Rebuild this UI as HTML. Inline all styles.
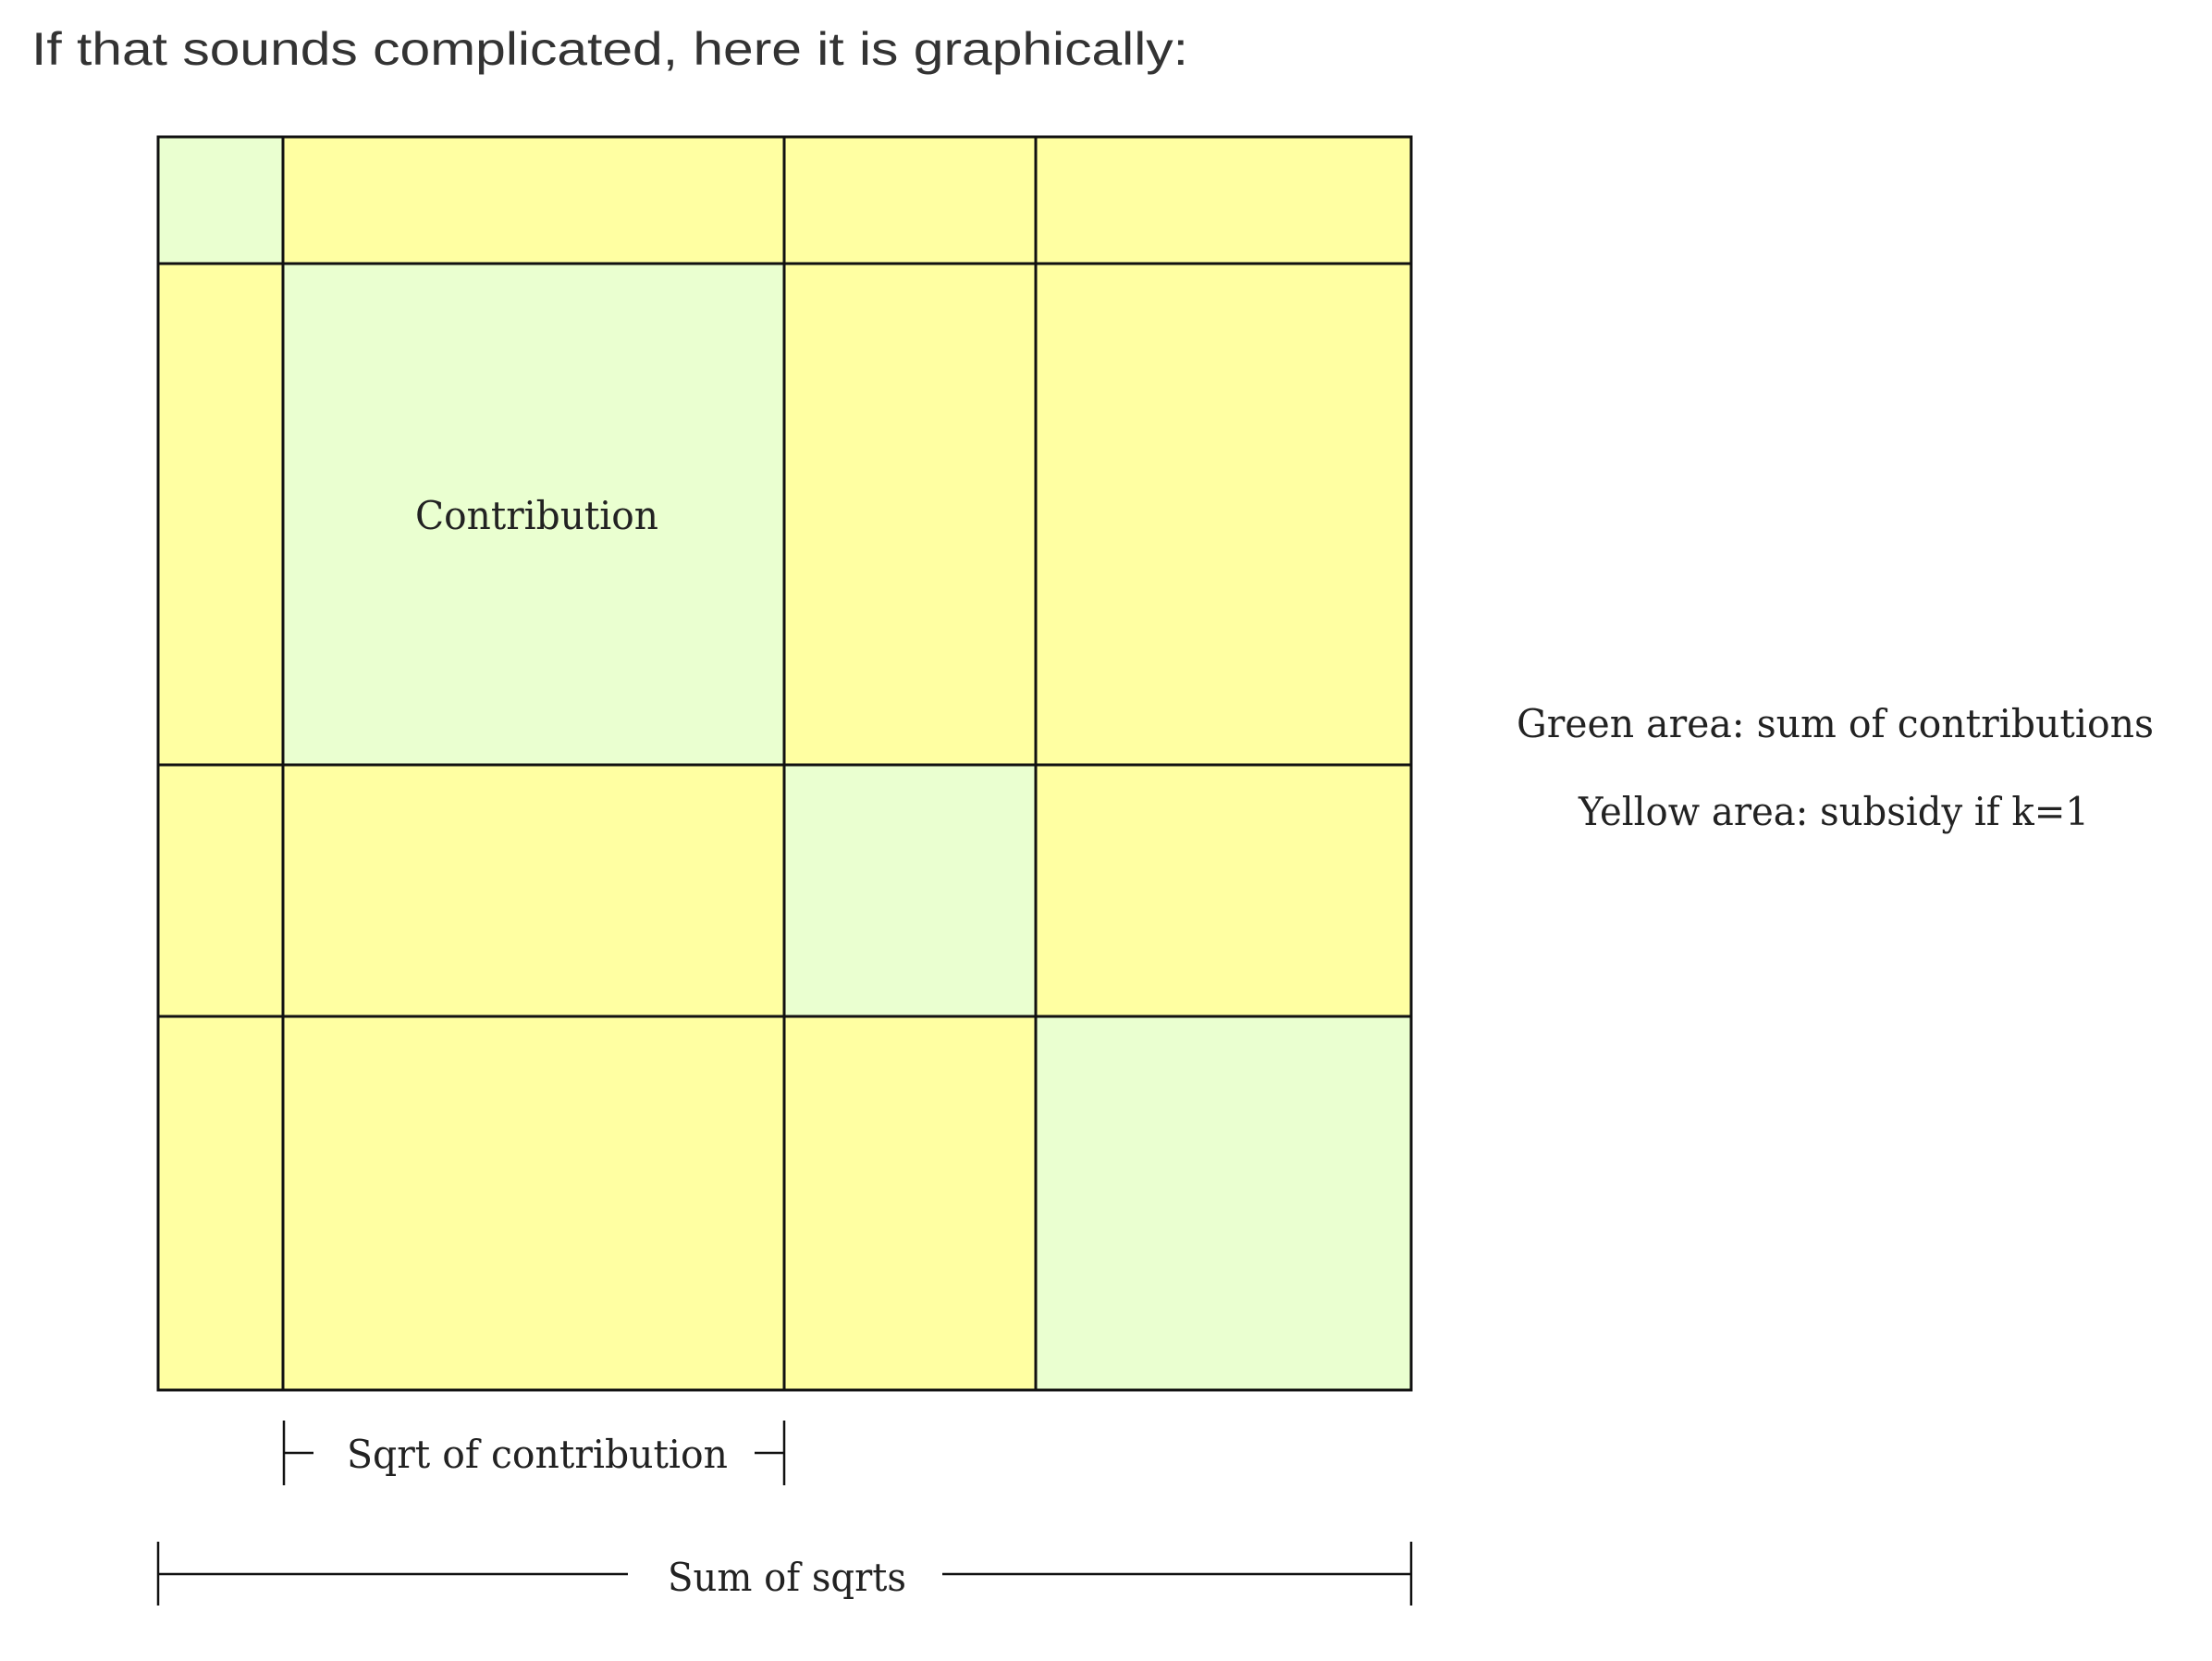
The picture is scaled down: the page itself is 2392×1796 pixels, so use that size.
<!DOCTYPE html>
<html><head><meta charset="utf-8"><style>
html,body{margin:0;padding:0;background:#fff;}
svg{display:block;}
</style></head><body>
<svg width="2392" height="1796" viewBox="0 0 2392 1796" xmlns="http://www.w3.org/2000/svg">
<text x="34" y="70" font-family="Liberation Sans, sans-serif" font-size="50" fill="#333" textLength="1251" lengthAdjust="spacingAndGlyphs">If that sounds complicated, here it is graphically:</text>
<g stroke="none">
<rect x="171" y="148" width="1355" height="1355" fill="#ffffa2"/>
<rect x="171" y="148" width="135" height="137" fill="#eaffd0"/>
<rect x="306" y="285" width="542" height="542" fill="#eaffd0"/>
<rect x="848" y="827" width="272" height="272" fill="#eaffd0"/>
<rect x="1120" y="1099" width="406" height="404" fill="#eaffd0"/>
</g>
<g stroke="#111" stroke-width="3" fill="none">
<rect x="171" y="148" width="1355" height="1355"/>
<line x1="306" y1="148" x2="306" y2="1503"/>
<line x1="848" y1="148" x2="848" y2="1503"/>
<line x1="1120" y1="148" x2="1120" y2="1503"/>
<line x1="171" y1="285" x2="1526" y2="285"/>
<line x1="171" y1="827" x2="1526" y2="827"/>
<line x1="171" y1="1099" x2="1526" y2="1099"/>
</g>
<g stroke="#111" stroke-width="2.5">
<line x1="307" y1="1536" x2="307" y2="1606"/>
<line x1="307" y1="1571" x2="339" y2="1571"/>
<line x1="848" y1="1536" x2="848" y2="1606"/>
<line x1="816" y1="1571" x2="848" y2="1571"/>
<line x1="171" y1="1667" x2="171" y2="1736"/>
<line x1="1526" y1="1667" x2="1526" y2="1736"/>
<line x1="171" y1="1702" x2="679" y2="1702"/>
<line x1="1019" y1="1702" x2="1526" y2="1702"/>
</g>
<g font-family="DejaVu Serif, Liberation Serif, serif" fill="#222" font-size="42">
<text x="449" y="572" textLength="263" lengthAdjust="spacingAndGlyphs">Contribution</text>
<text x="1640" y="797" textLength="689" lengthAdjust="spacingAndGlyphs">Green area: sum of contributions</text>
<text x="1707" y="892" textLength="552" lengthAdjust="spacingAndGlyphs">Yellow area: subsidy if k=1</text>
<text x="375" y="1587" textLength="412" lengthAdjust="spacingAndGlyphs">Sqrt of contribution</text>
<text x="722" y="1720" textLength="258" lengthAdjust="spacingAndGlyphs">Sum of sqrts</text>
</g>
</svg>
</body></html>
